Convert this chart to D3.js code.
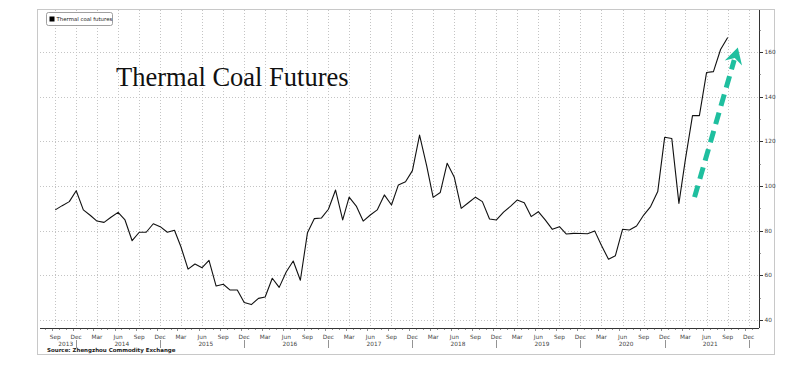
<!DOCTYPE html>
<html>
<head>
<meta charset="utf-8">
<script src="https://cdn.jsdelivr.net/npm/d3@7"></script>
<style>
    body { margin: 0; background: #fff; }
    svg text { font-family: "DejaVu Sans", sans-serif; }
</style>
</head>
<body>
<div id="chart"></div>
<script>
// chart content
const chartTitle = "Thermal Coal Futures";
const seriesName = "Thermal coal futures";
const sourceText = "Source: Zhengzhou Commodity Exchange";

// monthly closes, first value is Sep 2013
const firstMonth = "2013-09";
const coalPrices = [
    89.3, 91.2, 93.0, 97.9,                                                    // 2013
    89.3, 86.8, 84.3, 83.7, 86.0, 88.2, 84.8, 75.5, 79.3, 79.3, 83.1, 81.8,    // 2014
    79.3, 80.2, 72.8, 62.8, 65.1, 63.4, 66.7, 55.2, 56.0, 53.4, 53.4, 47.8,    // 2015
    46.9, 49.7, 50.3, 58.7, 54.6, 61.6, 66.4, 57.8, 79.1, 85.4, 85.7, 89.6,    // 2016
    98.2, 84.8, 95.0, 91.0, 84.3, 87.0, 89.3, 96.0, 91.5, 100.5, 101.9, 106.9, // 2017
    122.8, 109.0, 94.9, 97.1, 110.2, 103.9, 90.0, 92.5, 95.0, 93.0, 85.2, 84.8, // 2018
    88.3, 91.0, 93.7, 92.5, 86.3, 88.5, 84.8, 80.6, 81.8, 78.5, 78.8, 78.7,    // 2019
    78.6, 79.9, 73.5, 67.2, 68.8, 80.6, 80.3, 82.1, 87.0, 90.8, 97.5, 121.8,   // 2020
    121.3, 92.2, 111.8, 131.5, 131.5, 150.8, 151.2, 161.1, 166.5               // 2021
];

const yTicks = [40, 60, 80, 100, 120, 140, 160];
const yMinorTicks = [50, 70, 90, 110, 130, 150, 170];
const monthNames = ["Jan", "Feb", "Mar", "Apr", "May", "Jun", "Jul", "Aug", "Sep", "Oct", "Nov", "Dec"];
const years = [2013, 2014, 2015, 2016, 2017, 2018, 2019, 2020, 2021];

// the green "going up" arrow, in data terms
const arrowFrom = {date: "2021-04-10", value: 95};
const arrowTo = {date: "2021-10-15", value: 162};

const W = 788, H = 378;
const plot = {left: 40, right: 759, top: 10, bottom: 328};
const tickFont = "5.8px";

const svg = d3.select("#chart").append("svg")
    .attr("width", W)
    .attr("height", H);

svg.append("rect").attr("width", W).attr("height", H).attr("fill", "#fff");

const parseMonth = d3.timeParse("%Y-%m");
const parseDay = d3.timeParse("%Y-%m-%d");
const start = parseMonth(firstMonth);
const data = coalPrices.map((v, i) => ({date: d3.timeMonth.offset(start, i), value: v}));

const x = d3.scaleTime()
    .domain([new Date(2013, 6, 1), new Date(2022, 0, 15)])
    .range([41, plot.right]);

const y = d3.scaleLinear()
    .domain([40, 160])
    .range([320, 52]);

// outer frame
svg.append("rect")
    .attr("x", 37.5).attr("y", 9.5)
    .attr("width", 737).attr("height", 345)
    .attr("fill", "none")
    .attr("stroke", "#c8c8c8");

// grid
const quarterMonths = d3.timeMonth.range(new Date(2013, 8, 1), new Date(2022, 0, 2))
    .filter(d => d.getMonth() % 3 === 2);

svg.append("g").selectAll("line")
    .data(quarterMonths)
    .enter().append("line")
    .attr("x1", d => Math.round(x(d)) + 0.5)
    .attr("x2", d => Math.round(x(d)) + 0.5)
    .attr("y1", plot.top)
    .attr("y2", plot.bottom)
    .attr("stroke", "#c4c4c4")
    .attr("stroke-dasharray", "1,2");

svg.append("g").selectAll("line")
    .data(yTicks)
    .enter().append("line")
    .attr("x1", plot.left)
    .attr("x2", plot.right)
    .attr("y1", d => Math.round(y(d)) + 0.5)
    .attr("y2", d => Math.round(y(d)) + 0.5)
    .attr("stroke", "#c4c4c4")
    .attr("stroke-dasharray", "1,2");

// title + legend
svg.append("text")
    .attr("x", 116)
    .attr("y", 85.5)
    .attr("font-size", "26.5px")
    .style("font-family", "'Liberation Serif', serif")
    .attr("fill", "#111")
    .text(chartTitle);

const legend = svg.append("g");
legend.append("rect")
    .attr("x", 46.5).attr("y", 12.5)
    .attr("width", 66).attr("height", 13)
    .attr("rx", 2)
    .attr("fill", "#fff")
    .attr("stroke", "#888")
    .attr("stroke-width", 0.8);
legend.append("rect")
    .attr("x", 49.5).attr("y", 16.5)
    .attr("width", 5).attr("height", 5)
    .attr("fill", "#000");
legend.append("text")
    .attr("x", 56.5).attr("y", 21.3)
    .attr("font-size", "5.4px")
    .attr("fill", "#222")
    .text(seriesName);

// price line
const line = d3.line()
    .x(d => x(d.date))
    .y(d => y(d.value));

svg.append("path")
    .datum(data)
    .attr("d", line)
    .attr("fill", "none")
    .attr("stroke", "#111")
    .attr("stroke-width", 1.1)
    .attr("stroke-linejoin", "round");

// x axis
const xAxis = svg.append("g");
xAxis.append("line")
    .attr("x1", plot.left).attr("x2", plot.right)
    .attr("y1", plot.bottom + 0.5).attr("y2", plot.bottom + 0.5)
    .attr("stroke", "#333");

const allMonths = d3.timeMonth.range(new Date(2013, 7, 1), new Date(2022, 0, 2));
xAxis.selectAll("line.tick")
    .data(allMonths)
    .enter().append("line")
    .attr("class", "tick")
    .attr("x1", d => Math.round(x(d) - 3.5) + 0.5)
    .attr("x2", d => Math.round(x(d) - 3.5) + 0.5)
    .attr("y1", plot.bottom)
    .attr("y2", d => plot.bottom + (d.getMonth() % 3 === 2 ? 3 : 2))
    .attr("stroke", "#444")
    .attr("stroke-width", 0.6);

xAxis.selectAll("text.month")
    .data(quarterMonths)
    .enter().append("text")
    .attr("class", "month")
    .attr("x", d => x(d))
    .attr("y", 338.5)
    .attr("text-anchor", "middle")
    .attr("font-size", tickFont)
    .attr("fill", "#444")
    .text(d => monthNames[d.getMonth()]);

xAxis.selectAll("line.sep")
    .data(years)
    .enter().append("line")
    .attr("class", "sep")
    .attr("x1", d => Math.round(x(new Date(d, 11, 1))) + 0.5)
    .attr("x2", d => Math.round(x(new Date(d, 11, 1))) + 0.5)
    .attr("y1", 340)
    .attr("y2", 348)
    .attr("stroke", "#666")
    .attr("stroke-width", 0.7);

xAxis.selectAll("text.year")
    .data(years)
    .enter().append("text")
    .attr("class", "year")
    .attr("x", d => {
        const a = d === 2013 ? x(start) : x(new Date(d, 0, 1));
        return (a + x(new Date(d, 11, 1))) / 2;
    })
    .attr("y", 345.8)
    .attr("text-anchor", "middle")
    .attr("font-size", tickFont)
    .attr("fill", "#444")
    .text(d => d);

// y axis on the right
const yAxis = svg.append("g");
yAxis.append("line")
    .attr("x1", plot.right + 0.5).attr("x2", plot.right + 0.5)
    .attr("y1", plot.top).attr("y2", plot.bottom)
    .attr("stroke", "#333");

yAxis.selectAll("line.major")
    .data(yTicks)
    .enter().append("line")
    .attr("x1", plot.right).attr("x2", plot.right + 4)
    .attr("y1", d => Math.round(y(d)) + 0.5)
    .attr("y2", d => Math.round(y(d)) + 0.5)
    .attr("stroke", "#333");

yAxis.selectAll("line.minor")
    .data(yMinorTicks)
    .enter().append("line")
    .attr("x1", plot.right).attr("x2", plot.right + 2)
    .attr("y1", d => Math.round(y(d)) + 0.5)
    .attr("y2", d => Math.round(y(d)) + 0.5)
    .attr("stroke", "#555")
    .attr("stroke-width", 0.6);

yAxis.selectAll("text")
    .data(yTicks)
    .enter().append("text")
    .attr("x", plot.right + 5.5)
    .attr("y", d => y(d) + 2)
    .attr("font-size", tickFont)
    .attr("fill", "#444")
    .text(d => d);

// source
svg.append("text")
    .attr("x", 47)
    .attr("y", 351.5)
    .attr("font-size", "5.5px")
    .attr("font-weight", "bold")
    .attr("fill", "#1a1a1a")
    .text(sourceText);

// dashed arrow
const ax0 = x(parseDay(arrowFrom.date)), ay0 = y(arrowFrom.value);
const ax1 = x(parseDay(arrowTo.date)), ay1 = y(arrowTo.value);
const ang = Math.atan2(ay1 - ay0, ax1 - ax0);
const headLen = 16, headHalf = 9;
const ux = Math.cos(ang), uy = Math.sin(ang);
const px = -uy, py = ux;

svg.append("line")
    .attr("x1", ax0).attr("y1", ay0)
    .attr("x2", ax1 - ux * (headLen - 3)).attr("y2", ay1 - uy * (headLen - 3))
    .attr("stroke", "#1fbf9f")
    .attr("stroke-width", 5)
    .attr("stroke-dasharray", "12,7");

const bx = ax1 - ux * headLen, by = ay1 - uy * headLen;
const nx = ax1 - ux * (headLen - 5), ny = ay1 - uy * (headLen - 5);
svg.append("path")
    .attr("d", `M${ax1},${ay1}L${bx + px * headHalf},${by + py * headHalf}L${nx},${ny}L${bx - px * headHalf},${by - py * headHalf}Z`)
    .attr("fill", "#1fbf9f");
</script>
</body>
</html>
